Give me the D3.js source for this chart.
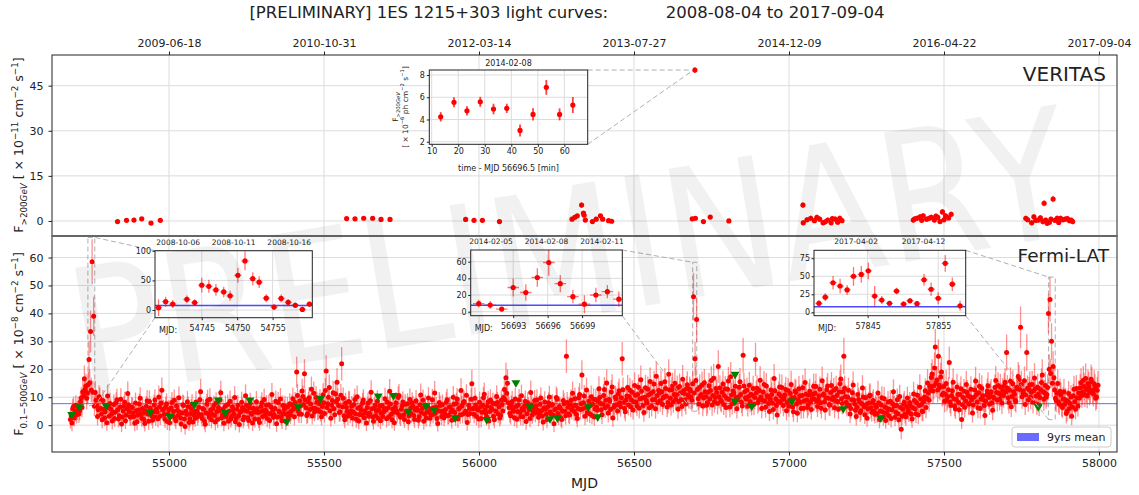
<!DOCTYPE html>
<html>
<head>
<meta charset="utf-8">
<title>1ES 1215+303 light curves</title>
<script src="https://cdn.jsdelivr.net/npm/d3@7"></script>
<style>
  body { margin: 0; background: #fff; }
  svg { font-family: "DejaVu Sans", sans-serif; }
</style>
</head>
<body>
<svg id="chart" width="1139" height="495"></svg>
<script>

//// DATA

// Shared time axis: MJD ticks (bottom) and the matching calendar dates (top)
var mjdTicks = [55000, 55500, 56000, 56500, 57000, 57500, 58000];
var dateTicks = ["2009-06-18", "2010-10-31", "2012-03-14", "2013-07-27", "2014-12-09", "2016-04-22", "2017-09-04"];
var veritasTicks = [0, 15, 30, 45];
var fermiTicks = [0, 10, 20, 30, 40, 50, 60];

// VERITAS nightly fluxes (x 1e-11 cm-2 s-1)
var veritasMjd = [
  54834, 54863, 54887, 54912, 54942, 54972,
  55573, 55600, 55628, 55657, 55684, 55713,
  55957, 55984, 56011, 56066,
  56300, 56309, 56317, 56331, 56337, 56339, 56343, 56366, 56378, 56392, 56399, 56418, 56428,
  56688, 56696.5, 56698, 56724, 56746, 56806,
  57045, 57046, 57058, 57070, 57082, 57090, 57099, 57110, 57117, 57125, 57136, 57140, 57149, 57157, 57164, 57171,
  57401, 57406, 57413, 57423, 57428, 57433, 57444, 57452, 57459, 57469, 57474, 57480, 57487, 57495, 57500, 57505, 57515, 57523,
  57764, 57770, 57783, 57790, 57796, 57804, 57811, 57819, 57823, 57828, 57833, 57840, 57845, 57852, 57858, 57865, 57870, 57876, 57884, 57891, 57898, 57905, 57910, 57915
];
var veritasFlux = [
  -0.2, 0.2, 0.3, 0.7, -0.7, 0.2,
  0.8, 0.7, 0.9, 0.9, 0.5, 0.5,
  0.5, 0.2, 0.2, -0.2,
  0.6, 1.2, 1.7, 5.3, 2.6, 1.9, 0.3, -0.2, 0.6, 1.7, 0.6, 0.1, -0.1,
  0.7, 50.2, 0.9, -0.2, 1.3, 0.0,
  5.3, -0.6, 0.4, 0.9, 0.1, 1.2, 0.6, -0.6, -0.3, 0.3, -0.6, 0.8, 0.6, -0.4, 0.9, 0.1,
  0.3, 0.7, 0.9, 1.4, 0.2, 1.7, 0.6, 0.9, 1.2, 0.3, 1.6, 1.2, -0.2, 3.0, 0.4, 1.7, 1.0, 2.2,
  0.9, 0.4, -0.6, 1.4, 0.2, 0.3, 1.0, -0.2, 5.9, 0.3, -0.8, -0.4, 0.6, 7.3, 0.2, 0.9, -0.5, 0.9, 0.4, 0.6, 0.8, 0.1, 0.3, -0.2
];
var veritasErr = [
  0.4, 0.4, 0.4, 0.5, 0.4, 0.4,
  0.4, 0.4, 0.4, 0.4, 0.4, 0.4,
  0.4, 0.4, 0.4, 0.4,
  0.5, 0.6, 0.6, 0.9, 0.7, 0.6, 0.5, 0.5, 0.5, 0.6, 0.5, 0.5, 0.5,
  0.5, 1.0, 0.6, 0.6, 0.6, 0.5,
  0.9, 0.9, 0.8, 0.9, 0.8, 0.9, 0.9, 0.9, 0.8, 0.8, 0.9, 0.8, 0.9, 0.8, 0.9, 0.8,
  0.8, 0.8, 0.9, 0.9, 0.8, 0.9, 0.8, 0.9, 0.9, 0.8, 0.9, 0.9, 0.8, 1.0, 0.8, 0.9, 0.8, 0.9,
  0.8, 0.8, 0.9, 0.9, 0.8, 0.8, 0.9, 0.9, 1.0, 0.8, 0.9, 0.8, 0.8, 1.1, 0.8, 0.9, 0.8, 0.9, 0.8, 0.8, 0.9, 0.8, 0.8, 0.9
];

// VERITAS flare night 2014-02-08, minutes after MJD 56696.5 (x 1e-6 ph cm-2 s-1)
var vFlareMin = [13.4, 18.4, 23.3, 28.3, 33.3, 38.3, 43.3, 48.2, 53.2, 58.2, 63.2];
var vFlareFlux = [4.24, 5.54, 4.78, 5.59, 4.94, 5.0, 3.02, 4.46, 6.89, 4.46, 5.3];
var vFlareErr = [0.42, 0.45, 0.42, 0.45, 0.48, 0.42, 0.54, 0.54, 0.66, 0.54, 0.72];
var vInsXTicks = [10, 20, 30, 40, 50, 60];
var vInsYTicks = [2, 4, 6, 8];

// Fermi-LAT light curve, 2.5-day bins starting at MJD 54682 (x 1e-8 cm-2 s-1), 100 days per row
var fermiStart = 54682;
var fermiBin = 2.5;
var fermiFlux = [
  2.0, 3.4, 0.8, 5.9, 6.7, 2.6, 4.5, 7.1, 3.7, 5.3, 6.7, 4.0, 5.2, 8.4, 9.7, 6.3, 12.0, 10.5, 16.6, 12.8, 14.0, 9.6, 11.5, 14.5, 23.5, 15.2, 33.5, 12.6, 58.5, 11.8, 39.0, 6.8, 11.7, 8.9, 7.0, 3.1, 5.5, 10.2, 9.5, 6.0,
  4.0, 1.9, 8.8, 5.6, 2.6, 4.8, 6.1, 0.9, 10.4, 6.9, 3.2, 7.8, 5.8, 3.9, 1.5, 4.7, 7.4, 2.4, 4.6, 8.0, 9.1, 5.5, 2.2, 3.4, 6.5, 9.3, 0.4, 2.9, 5.1, 6.8, 8.2, 1.6, 3.6, 5.9, 11.3, 7.2, 4.9, 3.0, 2.8, 6.4,
  6.3, 4.4, 3.1, 0.7, 7.9, 5.2, 1.2, 3.6, 5.4, 7.6, 9.6, 4.1, 2.5, 6.0, 4.3, 2.0, 0.6, 5.1, 6.8, 8.7, 3.9, 1.4, 8.5, 6.1, 5.0, 3.3, 1.8, 4.6, 7.2, 9.0, 2.9, 5.7, 4.7, 2.3, 10.1, 6.6, 3.3, 7.9, 12.5, 5.4,
  5.6, 3.8, 2.1, 6.5, 7.7, 1.3, 4.0, 5.5, 0.9, 3.0, 6.2, 8.1, 3.4, 4.9, 8.9, 2.7, 1.6, 6.9, 5.3, 3.5, 9.8, 4.6, 2.7, 0.4, 4.4, 7.3, 7.0, 2.2, -0.5, 5.0, 3.8, 8.4, 6.6, 1.0, 2.3, 4.2, 5.9, 7.5, 1.1, 3.6,
  4.8, 2.5, 8.3, 5.1, 3.0, 4.2, 6.4, 9.1, 12.0, 3.7, 2.4, 6.0, 5.7, 1.5, 0.3, 4.4, 7.5, 8.8, 4.1, 2.8, 9.3, 5.4, 1.9, 3.9, 6.0, 7.0, 3.5, 1.1, 8.0, 4.9, 2.0, 6.3, 5.2, 9.0, 11.6, 2.6, 3.7, 5.8, 0.7, 4.5,
  6.9, 3.0, 4.2, 7.4, 1.4, 5.0, 8.6, 2.2, 3.2, 6.6, 5.5, 4.0, 9.9, 1.2, 2.6, 5.7, 7.1, 3.4, 0.2, 4.6, 4.9, 8.2, 6.3, 1.9, 2.9, 5.3, 10.5, 7.0, 5.0, 2.7, 1.7, 6.2, 7.8, 4.3, 3.9, 0.8, 6.1, 5.6, 2.2, 4.7,
  8.4, 5.9, 4.5, 2.0, 1.0, 4.8, 6.7, 8.0, 3.1, 5.2, 9.2, 3.6, 5.3, 7.1, 2.4, 4.3, 7.3, 1.7, 4.0, 6.5, 11.0, 5.4, 2.8, 3.8, 6.0, 8.6, 0.5, 2.9, 8.1, 5.0, 4.6, 9.4, 3.0, 1.6, 7.0, 4.1, 5.6, 6.8, 1.3, 3.9,
  6.5, 2.8, 4.4, 7.7, 3.6, 5.1, 7.2, 9.5, 5.8, 3.0, 8.1, 6.4, 19.0, 10.6, 5.1, 4.0, 8.7, 6.9, 3.9, 12.2, 10.3, 7.4, 18.4, 9.1, 6.2, 3.5, 4.1, 8.3, 9.8, 5.6, 7.6, 12.9, 3.3, 6.1, 11.4, 4.7, 6.0, 9.9, 8.2, 5.2,
  5.4, 7.8, 9.0, 4.6, 3.0, 6.7, 10.9, 8.0, 4.2, 12.4, 19.4, 6.3, 7.7, 10.0, 13.5, 5.2, 2.5, 7.1, 8.8, 11.6, 5.9, 3.7, 11.2, 8.4, 15.4, 9.3, 7.0, 4.5, 4.8, 10.7, 22.0, 6.6, 9.6, 3.4, 1.9, 7.9, 6.4, 4.9, 3.2, 8.5,
  8.3, 4.0, 5.1, 6.8, 2.6, 4.7, 7.4, 9.2, 4.0, 2.1, 10.2, 6.1, 1.5, 3.8, 6.6, 5.4, 3.7, 7.9, 9.0, 2.7, 5.2, 4.4, 0.8, 6.3, 7.9, 3.2, 4.3, 8.8, 11.8, 5.9, 2.9, 1.4, 6.1, 7.0, 3.4, 5.0, 8.6, 2.5, 5.5, 6.9,
  1.6, 4.3, 7.0, 3.1, 4.7, 6.0, 9.5, 5.5, 2.3, 8.2, 6.2, 3.0, 12.1, 7.6, 3.9, 1.9, 5.8, 4.6, 0.9, 6.4, 8.0, 5.2, 4.4, 9.9, 10.6, 3.5, 2.8, 5.7, 6.9, 8.3, 3.6, 2.0, 7.5, 4.8, 5.0, 7.7, 1.2, 3.3, 9.2, 6.2,
  4.1, 8.0, 6.8, 3.5, 2.0, 5.4, 8.7, 6.1, 5.3, 1.8, 3.0, 7.3, 10.8, 4.5, 6.0, 8.9, 1.4, 4.0, 7.2, 2.6, 4.6, 6.7, 9.7, 5.0, 2.5, 3.7, 5.9, 9.1, 3.8, 6.2, 11.5, 4.3, 6.5, 2.4, 0.6, 5.2, 8.1, 7.0, 4.9, 3.1,
  7.3, 5.0, 2.7, 4.1, 5.6, 8.2, 9.1, 3.4, 3.5, 6.6, 6.4, 4.7, 1.8, 5.3, 10.0, 7.5, 4.5, 2.9, 7.8, 9.4, 2.2, 5.8, 6.2, 3.6, 12.4, 6.9, 3.9, 8.0, 8.5, 4.4, 5.0, 10.7, 1.0, 3.8, 7.1, 6.0, 4.2, 9.3, 14.8, 5.9,
  6.0, 3.9, 9.6, 7.2, 3.1, 5.8, 5.4, 2.2, 8.2, 6.5, 2.4, 4.6, 7.0, 9.8, 11.1, 5.5, 4.3, 3.0, 6.8, 8.4, 1.5, 4.9, 9.0, 6.3, 5.7, 7.9, 3.2, 1.9, 7.6, 5.1, 10.3, 8.1, 4.0, 6.6, 2.6, 3.5, 8.9, 7.4, 5.1, 9.9,
  12.8, 9.1, 17.0, 11.4, 15.0, 8.0, 6.3, 4.2, 3.4, 7.0, 8.5, 5.6, 5.0, 2.7, 9.4, 6.7, 2.1, 4.9, 7.2, 9.0, 4.6, 3.1, 10.5, 6.0, 3.0, 5.4, 6.9, 8.6, 1.3, 4.1, 8.0, 6.4, 5.5, 2.4, 11.7, 7.3, 3.7, 5.0, 6.2, 8.8,
  4.4, 6.9, 9.0, 5.3, 2.8, 4.0, 7.5, 9.7, 5.2, 3.3, 1.1, 6.2, 8.3, 5.7, 3.9, 2.0, 6.6, 8.0, 10.1, 4.8, 4.0, 7.1, 7.4, 3.6, 0.5, 5.5, 5.8, 9.9, 9.3, 4.2, 3.3, 6.7, 6.1, 2.5, 2.0, 5.0, 8.8, 7.7, 5.0, 3.4,
  24.7, 8.1, 6.4, 4.0, 3.6, 7.3, 8.9, 5.5, 11.4, 6.8, 4.9, 9.5, 7.1, 3.8, 2.4, 6.0, 9.8, 11.0, 5.6, 7.7, 18.0, 5.9, 8.0, 10.4, 3.2, 6.3, 12.6, 4.5, 6.7, 8.6, 4.1, 7.0, 10.2, 3.5, 7.5, 9.3, 2.9, 5.8, 9.1, 6.5,
  5.3, 8.6, 13.0, 9.9, 7.8, 5.5, 3.7, 7.6, 10.6, 12.8, 6.2, 8.9, 15.1, 6.9, 4.4, 9.2, 8.7, 5.6, 11.9, 13.7, 2.6, 6.4, 7.0, 10.1, 9.5, 7.3, 5.1, 11.2, 12.3, 8.0, 6.6, 9.8, 23.8, 12.7, 8.1, 6.0, 4.8, 9.0, 10.4, 13.5,
  7.2, 10.3, 12.5, 6.6, 9.0, 11.8, 5.4, 8.4, 14.2, 10.7, 8.3, 6.9, 11.0, 13.6, 6.1, 9.5, 16.3, 12.1, 9.7, 7.0, 4.5, 10.0, 13.4, 8.8, 7.9, 12.9, 10.8, 6.2, 15.6, 11.3, 6.8, 9.1, 12.0, 14.7, 9.2, 5.9, 17.5, 10.6, 8.0, 12.4,
  11.6, 8.7, 14.9, 12.0, 7.4, 9.8, 10.2, 15.5, 13.1, 10.4, 6.5, 8.1, 18.2, 12.6, 9.6, 7.2, 12.7, 14.1, 8.4, 11.0, 15.0, 9.3, 10.9, 13.2, 5.8, 8.5, 13.8, 11.5, 9.1, 6.7, 16.4, 12.3, 11.3, 9.0, 7.6, 13.0, 14.5, 10.8, 10.0, 12.9,
  12.2, 10.1, 8.9, 14.8, 46.0, 11.5, 23.8, 16.0, 37.8, 12.8, 9.5, 7.6, 13.6, 10.5, 11.0, 14.4, 6.9, 9.7, 15.2, 12.0, 10.3, 7.1, 8.0, 11.9, 14.1, 9.4, 12.4, 16.0, 7.2, 10.6, 16.8, 8.4, 9.9, 13.1, 11.7, 7.8, 21.0, 10.2, 13.3, 9.0,
  8.6, 11.8, 14.7, 7.4, 10.5, 13.0, 6.3, 9.6, 12.9, 15.8, 9.2, 6.5, 17.3, 10.8, 7.7, 12.2, 11.5, 8.2, 13.9, 10.0, 5.9, 9.1, 10.1, 13.6, 15.5, 11.0, 8.3, 6.9, 25.0, 14.0, 12.0, 9.8, 9.4, 12.5, 6.8, 10.3, 14.3, 8.5, 11.1, 7.3,
  10.7, 13.1, 7.5, 9.9, 23.5, 11.6, 13.2, 8.0, 9.0, 12.4, 16.1, 10.1, 6.0, 8.9, 11.8, 14.6, 8.7, 6.4, 14.0, 10.5, 10.2, 7.8, 4.9, 9.3, 12.6, 11.0, 7.9, 5.6, 16.7, 12.3, 9.5, 7.0, 3.6, 8.6, 11.2, 13.7, 8.1, 10.4, 13.5, 9.2,
  7.0, 9.5, 10.9, 12.8, 5.2, 8.1, 12.4, 6.8, 8.8, 11.3, 14.6, 9.7, 6.5, 4.8, 9.9, 12.2, 11.7, 7.6, 4.3, 9.0, 13.0, 10.4, 8.2, 6.0, 10.6, 13.4, 6.1, 8.7, 15.3, 11.1, 9.0, 6.3, 7.3, 10.8, 12.1, 8.3, 5.6, 9.4, 11.0, 13.9,
  9.3, 11.4, 13.8, 8.6, 6.7, 9.0, 10.4, 12.9, 8.0, 6.1, 15.9, 10.8, 11.2, 8.4, 5.4, 9.8, 12.7, 14.0, 9.6, 7.4, 7.1, 11.7, 14.2, 9.2, 10.0, 12.5, 6.2, 8.8, 13.1, 10.6, 8.5, 5.7, 11.9, 14.8, 16.5, 9.5, 7.8, 12.0, 24.7, 13.2,
  10.3, 8.2, 6.9, 10.0, 12.5, 7.1, 4.0, 6.0, 9.1, 11.6, 14.4, 8.9, 7.6, 5.3, 3.1, 6.4, 11.0, 9.2, 8.4, 4.5, 5.2, 7.8, 13.3, 10.1, 6.6, 3.7, 9.8, 7.4, 2.5, 5.9, 7.9, 10.4, 10.7, 6.2, 4.6, 8.1, 8.8, 5.0, 3.9, 7.0,
  6.4, 4.2, 11.5, 8.0, 2.0, 5.1, 7.2, 9.8, 4.8, 3.0, 9.5, 6.6, 1.7, 4.4, 6.0, 8.3, 3.4, 5.6, 8.6, 2.4, 5.5, 7.7, 12.0, 6.9, 2.8, 4.6, 7.0, 9.1, 4.1, 1.9, 10.3, 6.3, -1.5, 3.2, 5.7, 7.5, 8.2, 4.0, 3.0, 6.7,
  9.7, 5.3, 4.5, 8.1, 6.9, 3.9, 2.2, 6.2, 11.2, 8.8, 5.8, 4.1, 8.0, 10.7, 3.6, 7.0, 13.6, 9.4, 7.4, 5.0, 4.9, 8.5, 10.1, 12.3, 6.3, 9.6, 15.1, 11.5, 8.9, 13.9, 12.8, 17.1, 18.3, 12.2, 14.0, 20.5, 28.0, 15.0, 16.2, 12.6,
  24.7, 14.3, 13.5, 17.2, 19.0, 10.9, 11.4, 13.8, 8.6, 11.1, 14.9, 9.0, 10.2, 12.7, 22.4, 8.3, 7.0, 10.6, 12.3, 15.4, 9.5, 6.8, 5.8, 9.2, 13.7, 11.0, 8.1, 5.5, 11.0, 13.0, 2.0, 7.3, 9.9, 12.1, 6.4, 8.7, 14.6, 11.8, 10.5, 7.6,
  7.7, 10.2, 12.9, 9.1, 4.4, 7.2, 10.0, 12.6, 15.8, 11.0, 8.3, 6.2, 11.6, 13.9, 6.0, 9.4, 13.2, 10.5, 9.1, 7.0, 3.5, 8.6, 10.8, 12.2, 14.1, 9.9, 7.5, 11.3, 12.0, 8.0, 5.3, 10.1, 9.6, 13.5, 16.0, 11.7, 8.9, 14.2, 11.4, 9.3,
  13.7, 10.8, 7.9, 12.4, 10.6, 14.0, 15.4, 11.9, 26.0, 13.3, 9.8, 8.1, 12.5, 15.7, 6.6, 10.3, 14.8, 12.0, 11.1, 9.0, 8.5, 13.6, 13.0, 17.4, 16.3, 12.8, 35.0, 14.6, 10.2, 11.5, 12.2, 15.9, 7.4, 10.9, 26.0, 13.2, 9.0, 12.7, 14.5, 10.0,
  11.8, 14.6, 8.2, 12.3, 16.9, 13.0, 10.4, 7.6, 13.6, 11.2, 7.1, 9.9, 12.7, 15.3, 18.0, 12.0, 9.3, 11.6, 14.2, 10.1, 11.0, 13.5, 40.0, 20.0, 45.0, 18.5, 30.0, 15.0, 21.0, 17.0, 12.6, 9.6, 8.8, 11.4, 14.9, 8.3, 7.5, 12.1, 10.9, 6.9,
  6.3, 9.4, 12.0, 7.5, 9.1, 4.2, 5.0, 8.6, 11.3, 6.0, 7.8, 10.1, 3.2, 6.5, 10.5, 12.9, 8.4, 5.7, 13.1, 9.8, 6.9, 11.5, 9.7, 13.4, 15.2, 10.6, 11.9, 16.1, 13.8, 11.0, 16.7, 12.8, 10.4, 14.9, 14.0, 11.7, 12.6, 16.4, 15.5, 12.2,
  11.2, 14.8, 13.4, 9.6, 10.1, 12.5, 14.3
];
var fermiErr = [
  3.2, 3.4, 3.0, 3.5, 3.5, 3.1, 3.3, 3.6, 3.1, 3.4, 3.6, 3.2, 3.4, 3.8, 3.9, 3.5, 4.2, 4.0, 4.8, 4.3, 4.5, 3.9, 4.0, 4.6, 6.5, 4.8, 7.5, 4.4, 8.0, 4.2, 7.0, 3.6, 4.2, 3.8, 3.6, 3.2, 3.4, 4.0, 3.9, 3.5,
  3.1, 3.0, 3.8, 3.5, 3.0, 3.4, 3.4, 2.9, 4.1, 3.7, 3.2, 3.8, 3.5, 3.2, 3.0, 3.4, 3.7, 3.0, 3.3, 3.8, 3.9, 3.5, 3.0, 3.1, 3.5, 3.9, 2.9, 3.1, 3.4, 3.6, 3.8, 3.0, 3.2, 3.5, 4.3, 3.7, 3.5, 3.1, 3.1, 3.6,
  3.6, 3.3, 3.2, 2.9, 3.8, 3.4, 3.0, 3.2, 3.4, 3.7, 4.0, 3.3, 3.1, 3.5, 3.3, 3.0, 2.9, 3.4, 3.6, 3.9, 3.2, 3.0, 3.9, 3.5, 3.4, 3.2, 3.0, 3.3, 3.7, 3.9, 3.1, 3.5, 3.4, 3.1, 4.1, 3.6, 3.2, 3.8, 4.6, 3.4,
  3.5, 3.3, 3.1, 3.6, 3.7, 3.0, 3.3, 3.5, 2.9, 3.1, 3.6, 3.8, 3.2, 3.4, 3.9, 3.1, 3.0, 3.6, 3.4, 3.2, 4.0, 3.4, 3.1, 2.9, 3.3, 3.7, 3.7, 3.1, 2.8, 3.4, 3.2, 3.8, 3.6, 3.0, 3.1, 3.3, 3.5, 3.7, 3.0, 3.3,
  3.4, 3.1, 3.8, 3.4, 3.1, 3.3, 3.6, 3.9, 4.5, 3.2, 3.0, 3.5, 3.5, 3.0, 2.8, 3.3, 3.7, 3.9, 3.2, 3.1, 3.9, 3.4, 3.0, 3.3, 3.6, 3.6, 3.1, 2.9, 3.8, 3.4, 3.0, 3.5, 3.4, 3.9, 4.3, 3.1, 3.2, 3.5, 2.9, 3.3,
  3.7, 3.1, 3.3, 3.6, 3.0, 3.4, 3.8, 3.0, 3.2, 3.6, 3.5, 3.3, 4.0, 3.0, 3.1, 3.5, 3.7, 3.2, 2.8, 3.3, 3.4, 3.8, 3.6, 3.0, 3.1, 3.4, 4.1, 3.7, 3.5, 3.1, 3.0, 3.5, 3.8, 3.3, 3.2, 2.9, 3.6, 3.5, 3.1, 3.4,
  3.8, 3.5, 3.4, 3.0, 3.0, 3.4, 3.6, 3.8, 3.1, 3.4, 3.9, 3.2, 3.5, 3.7, 3.1, 3.3, 3.7, 3.0, 3.3, 3.6, 4.1, 3.5, 3.1, 3.2, 3.5, 3.8, 2.9, 3.1, 3.8, 3.4, 3.4, 3.9, 3.1, 3.0, 3.7, 3.3, 3.5, 3.6, 3.0, 3.2,
  3.6, 3.1, 3.3, 3.7, 3.2, 3.4, 3.7, 3.9, 3.8, 3.1, 3.8, 3.5, 5.5, 4.1, 3.4, 3.2, 3.8, 3.6, 3.2, 4.4, 4.0, 3.6, 5.2, 3.9, 3.6, 3.1, 3.3, 3.7, 3.9, 3.4, 3.7, 4.5, 3.1, 3.5, 4.2, 3.3, 3.5, 4.0, 3.8, 3.4,
  3.4, 3.7, 3.9, 3.3, 3.1, 3.5, 4.1, 3.7, 3.3, 4.5, 5.6, 3.5, 3.7, 4.0, 4.6, 3.4, 3.0, 3.6, 3.8, 4.3, 3.5, 3.2, 4.2, 3.8, 5.0, 3.9, 3.6, 3.3, 3.4, 4.0, 6.0, 3.5, 3.9, 3.2, 3.0, 3.7, 3.6, 3.3, 3.1, 3.8,
  3.8, 3.3, 3.4, 3.6, 3.1, 3.4, 3.7, 3.9, 3.3, 3.0, 4.0, 3.5, 3.0, 3.3, 3.6, 3.4, 3.2, 3.7, 3.9, 3.1, 3.4, 3.3, 2.9, 3.5, 3.8, 3.1, 3.3, 3.8, 4.3, 3.5, 3.1, 3.0, 3.6, 3.7, 3.2, 3.4, 3.9, 3.1, 3.5, 3.6,
  3.0, 3.3, 3.7, 3.1, 3.4, 3.5, 3.9, 3.4, 3.1, 3.8, 3.6, 3.1, 4.4, 3.7, 3.3, 3.0, 3.5, 3.3, 2.9, 3.6, 3.8, 3.4, 3.4, 4.0, 4.1, 3.2, 3.1, 3.4, 3.7, 3.8, 3.3, 3.0, 3.7, 3.4, 3.4, 3.7, 3.0, 3.2, 3.9, 3.5,
  3.3, 3.8, 3.6, 3.2, 3.0, 3.4, 3.9, 3.5, 3.5, 3.0, 3.1, 3.7, 4.1, 3.3, 3.6, 3.9, 3.0, 3.2, 3.7, 3.1, 3.3, 3.6, 3.9, 3.4, 3.1, 3.2, 3.5, 3.9, 3.2, 3.6, 4.3, 3.3, 3.6, 3.0, 2.9, 3.4, 3.8, 3.7, 3.4, 3.1,
  3.7, 3.4, 3.1, 3.2, 3.5, 3.8, 3.9, 3.2, 3.2, 3.6, 3.6, 3.3, 3.0, 3.4, 4.0, 3.7, 3.4, 3.1, 3.8, 3.9, 3.1, 3.5, 3.6, 3.2, 4.4, 3.6, 3.3, 3.7, 3.8, 3.3, 3.4, 4.0, 3.0, 3.2, 3.7, 3.5, 3.3, 3.9, 5.0, 3.5,
  3.6, 3.2, 3.9, 3.7, 3.2, 3.5, 3.5, 3.1, 3.8, 3.6, 3.1, 3.3, 3.7, 3.9, 4.2, 3.4, 3.3, 3.1, 3.6, 3.8, 3.0, 3.4, 3.9, 3.5, 3.5, 3.7, 3.2, 3.0, 3.7, 3.4, 4.0, 3.8, 3.3, 3.5, 3.1, 3.2, 3.8, 3.7, 3.4, 3.9,
  4.6, 3.9, 5.4, 4.2, 5.0, 3.7, 3.6, 3.3, 3.2, 3.6, 3.8, 3.4, 3.4, 3.1, 3.9, 3.5, 3.1, 3.4, 3.7, 3.9, 3.3, 3.1, 4.0, 3.5, 3.2, 3.4, 3.6, 3.8, 3.0, 3.3, 3.8, 3.5, 3.5, 3.1, 4.3, 3.7, 3.3, 3.4, 3.6, 3.8,
  3.4, 3.6, 3.9, 3.4, 3.2, 3.3, 3.7, 3.9, 3.5, 3.2, 3.0, 3.5, 3.8, 3.4, 3.3, 3.1, 3.6, 3.7, 4.0, 3.4, 3.3, 3.6, 3.7, 3.2, 2.9, 3.4, 3.5, 3.9, 3.9, 3.3, 3.2, 3.6, 3.6, 3.1, 3.1, 3.4, 3.8, 3.7, 3.4, 3.2,
  6.0, 3.8, 3.6, 3.3, 3.3, 3.7, 3.9, 3.5, 4.2, 3.6, 3.4, 3.9, 3.7, 3.2, 3.1, 3.5, 3.9, 4.1, 3.5, 3.7, 5.2, 3.5, 3.8, 4.0, 3.2, 3.6, 4.4, 3.3, 3.6, 3.8, 3.3, 3.7, 4.0, 3.2, 3.7, 3.9, 3.1, 3.5, 3.9, 3.6,
  3.5, 3.9, 4.5, 4.0, 3.8, 3.5, 3.3, 3.8, 4.1, 4.4, 3.6, 3.9, 4.9, 3.7, 3.4, 3.9, 3.9, 3.5, 4.3, 4.5, 3.2, 3.6, 3.7, 4.1, 4.0, 3.7, 3.5, 4.2, 4.4, 3.8, 3.6, 4.0, 6.0, 4.4, 3.9, 3.6, 3.4, 3.9, 4.1, 4.5,
  3.7, 4.1, 4.4, 3.8, 3.9, 4.3, 3.4, 3.9, 4.7, 4.2, 3.9, 3.7, 4.2, 4.6, 3.6, 4.0, 5.1, 4.4, 4.0, 3.7, 3.3, 4.0, 4.6, 3.9, 3.8, 4.5, 4.2, 3.6, 5.0, 4.3, 3.7, 3.9, 4.3, 4.8, 4.0, 3.6, 5.3, 4.2, 3.9, 4.4,
  4.2, 3.9, 4.8, 4.3, 3.8, 4.0, 4.1, 4.9, 4.6, 4.1, 3.6, 3.8, 5.4, 4.5, 4.0, 3.7, 4.5, 4.7, 3.9, 4.2, 4.9, 4.0, 4.2, 4.6, 3.5, 3.9, 4.7, 4.3, 4.0, 3.6, 5.1, 4.4, 4.3, 4.0, 3.8, 4.6, 4.8, 4.2, 4.1, 4.5,
  4.4, 4.1, 4.0, 4.8, 8.5, 4.3, 6.0, 5.0, 8.0, 4.5, 4.1, 3.8, 4.6, 4.2, 4.3, 4.8, 3.7, 4.1, 4.9, 4.4, 4.2, 3.8, 3.9, 4.4, 4.7, 4.0, 4.4, 5.1, 3.8, 4.2, 5.2, 3.9, 4.1, 4.6, 4.5, 3.9, 5.8, 4.2, 4.6, 4.0,
  4.0, 4.4, 4.8, 3.8, 4.3, 4.6, 3.6, 4.0, 4.6, 5.0, 4.1, 3.7, 5.3, 4.3, 3.9, 4.5, 4.4, 3.9, 4.7, 4.1, 3.5, 4.0, 4.2, 4.7, 5.0, 4.3, 4.0, 3.7, 6.2, 4.8, 4.5, 4.1, 4.1, 4.5, 3.7, 4.2, 4.8, 3.9, 4.3, 3.8,
  4.3, 4.6, 3.9, 4.2, 6.0, 4.4, 4.6, 3.9, 4.1, 4.5, 5.1, 4.2, 3.6, 4.0, 4.4, 4.8, 4.0, 3.7, 4.7, 4.3, 4.2, 3.9, 3.4, 4.1, 4.5, 4.4, 3.9, 3.6, 5.2, 4.5, 4.1, 3.8, 3.3, 4.0, 4.4, 4.7, 4.0, 4.3, 4.6, 4.1,
  3.8, 4.1, 4.3, 4.5, 3.5, 3.9, 4.5, 3.8, 4.1, 4.3, 4.9, 4.2, 3.7, 3.6, 4.2, 4.5, 4.4, 3.9, 3.3, 4.0, 4.6, 4.2, 4.0, 3.7, 4.3, 4.6, 3.7, 4.0, 5.0, 4.3, 4.1, 3.8, 3.8, 4.3, 4.5, 4.0, 3.6, 4.1, 4.3, 4.6,
  4.1, 4.4, 4.7, 4.0, 3.8, 4.1, 4.3, 4.5, 4.0, 3.7, 5.1, 4.3, 4.4, 4.0, 3.6, 4.1, 4.5, 4.7, 4.2, 3.9, 3.8, 4.4, 4.8, 4.1, 4.2, 4.5, 3.7, 4.0, 4.6, 4.3, 4.0, 3.6, 4.4, 4.9, 5.2, 4.1, 3.9, 4.5, 6.5, 4.6,
  4.3, 4.0, 3.8, 4.2, 4.5, 3.9, 3.3, 3.6, 4.1, 4.4, 4.8, 4.0, 3.9, 3.5, 3.2, 3.7, 4.3, 4.0, 4.0, 3.4, 3.5, 3.8, 4.6, 4.2, 3.7, 3.3, 4.2, 3.9, 3.1, 3.6, 3.9, 4.2, 4.3, 3.7, 3.4, 3.9, 4.1, 3.5, 3.3, 3.8,
  3.7, 3.4, 4.4, 3.9, 3.1, 3.5, 3.8, 4.1, 3.5, 3.2, 4.2, 3.7, 3.0, 3.4, 3.7, 3.9, 3.3, 3.6, 4.0, 3.2, 3.6, 3.8, 4.4, 3.7, 3.2, 3.5, 3.8, 4.0, 3.4, 3.1, 4.2, 3.7, 3.5, 3.2, 3.7, 3.8, 4.0, 3.4, 3.2, 3.6,
  4.1, 3.5, 3.4, 3.8, 3.8, 3.3, 3.1, 3.6, 4.3, 3.9, 3.7, 3.4, 4.0, 4.1, 3.3, 3.7, 4.6, 4.0, 3.9, 3.5, 3.5, 3.9, 4.2, 4.4, 3.8, 4.0, 5.0, 4.4, 4.1, 4.7, 4.6, 5.1, 5.3, 4.5, 4.8, 5.5, 6.5, 4.9, 5.0, 4.5,
  6.0, 4.8, 4.7, 5.1, 5.4, 4.2, 4.3, 4.6, 4.0, 4.2, 4.9, 3.9, 4.2, 4.5, 5.8, 3.9, 3.8, 4.2, 4.5, 4.9, 4.1, 3.7, 3.6, 4.0, 4.7, 4.3, 3.9, 3.5, 4.3, 4.5, 3.3, 3.7, 4.2, 4.4, 3.7, 4.0, 4.8, 4.4, 4.3, 3.9,
  3.9, 4.2, 4.6, 4.0, 3.5, 3.8, 4.2, 4.5, 5.1, 4.3, 4.0, 3.7, 4.4, 4.7, 3.6, 4.1, 4.7, 4.2, 4.1, 3.8, 3.4, 3.9, 4.3, 4.5, 4.8, 4.1, 3.9, 4.3, 4.5, 3.9, 3.5, 4.2, 4.2, 4.6, 5.2, 4.3, 4.0, 4.7, 4.4, 4.0,
  4.7, 4.3, 3.9, 4.5, 4.3, 4.8, 5.0, 4.4, 6.5, 4.6, 4.2, 3.9, 4.6, 5.0, 3.7, 4.2, 4.9, 4.4, 4.4, 4.0, 4.0, 4.7, 4.7, 5.2, 5.2, 4.6, 7.5, 4.9, 4.3, 4.5, 4.5, 5.1, 3.8, 4.3, 6.5, 4.6, 4.2, 4.5, 4.8, 4.1,
  4.5, 4.8, 4.0, 4.4, 5.3, 4.6, 4.3, 3.9, 4.8, 4.3, 3.8, 4.1, 4.7, 5.0, 5.6, 4.4, 4.2, 4.5, 4.9, 4.2, 4.4, 4.7, 7.0, 5.4, 8.0, 5.2, 6.5, 4.9, 5.5, 5.0, 4.7, 4.1, 4.1, 4.5, 5.0, 4.0, 3.9, 4.6, 4.4, 3.8,
  3.7, 4.2, 4.6, 3.9, 4.2, 3.6, 3.5, 4.1, 4.5, 3.8, 3.9, 4.3, 3.2, 3.7, 4.3, 4.7, 4.0, 3.6, 4.8, 4.2, 3.8, 4.5, 4.2, 4.9, 5.2, 4.4, 4.6, 5.1, 5.0, 4.5, 5.4, 4.8, 4.3, 5.0, 5.0, 4.6, 4.7, 5.3, 5.3, 4.7,
  4.5, 5.0, 4.9, 4.4, 4.3, 4.8, 5.1
];

// Fermi-LAT upper limits (green triangles)
var ulMjd = [54686, 54711, 54797, 54939, 55003, 55082, 55159, 55181, 55261, 55380, 55417, 55489, 55675, 55724, 55772, 55829,
             55855, 55923, 56025, 56119, 56165, 56229, 56253, 56353, 56383, 56826, 56826, 56880, 57009, 57175, 57296, 57804];
var ulFlux = [3.8, 6.6, 7.0, 4.7, 3.1, 7.4, 9.0, 4.5, 9.0, 1.4, 6.6, 9.6, 10.4, 10.6, 5.0, 6.8,
              5.6, 2.6, 2.0, 15.2, 6.6, 2.3, 2.6, 6.6, 3.0, 18.2, 8.6, 6.8, 8.6, 5.9, 2.6, 6.6];

// 9 year mean flux
var fermiMean = 7.7;

// Fermi-LAT daily bins for the three zoomed flares
var flare1Mjd = [54738.9, 54739.9, 54740.9, 54742.9, 54744.0, 54745.0, 54746.0, 54747.0, 54748.1, 54749.0, 54750.1,
                 54751.1, 54752.2, 54753.1, 54754.1, 54755.2, 54756.2, 54757.2, 54758.2, 54759.2, 54760.2];
var flare1Flux = [4, 14, 10, 18, 12.6, 42, 40, 34, 30.5, 24, 58.6, 83, 53, 47, 20, 5, 19.5, 13, 8, 1, 10];
var flare1Err = [14, 8.4, 6.7, 6.7, 5.6, 12.5, 11, 10, 9, 8.4, 12.5, 15.7, 11, 10, 6.7, 4.5, 6.7, 5.6, 4.5, 4.5, 4.5];
var flare1Ticks = [54745, 54750, 54755];
var flare1Title = "2008-10-06     2008-10-11     2008-10-16";

var flare2Mjd = [56690.0, 56691.0, 56692.0, 56693.0, 56694.1, 56695.1, 56696.1, 56697.1, 56698.2, 56699.2, 56700.2, 56701.2, 56702.2];
var flare2Flux = [9.6, 8, 3.2, 29, 23, 41, 59, 33.6, 18, 9, 20, 24, 15];
var flare2Err = [4.6, 4.8, 2, 10.8, 10, 11.2, 16, 10.4, 8, 10.8, 8.8, 8, 9.2];
var flare2Ticks = [56693, 56696, 56699];
var flare2Title = "2014-02-05     2014-02-08     2014-02-11";

var flare3Mjd = [57838.1, 57839.0, 57840.1, 57841.1, 57842.1, 57843.0, 57844.1, 57845.1, 57846.0, 57847.0, 57848.1,
                 57849.1, 57850.1, 57851.0, 57852.0, 57853.0, 57854.0, 57855.0, 57856.0, 57857.0, 57858.1];
var flare3Flux = [12.5, 21, 41, 36.5, 31, 50, 52.5, 57.5, 22.5, 17, 12.5, 29.5, 11.5, 16, 12, 45, 32, 19.5, 68, 39, 9];
var flare3Err = [4.6, 5.6, 9.3, 10, 7, 13, 11.6, 11.6, 14, 5.6, 3.7, 4.6, 3.7, 3.7, 3.7, 8.3, 9.3, 8.3, 11.6, 9.3, 7];
var flare3Ticks = [57845, 57855];
var flare3Title = "2017-04-02          2017-04-12";


//// LAYOUT

var W = 1139, H = 495;
var plotLeft = 52, plotRight = 1117;
var vTop = 55, vBottom = 236, fTop = 236, fBottom = 452;
var ink = "#222";
var red = "#ff0000";

var x = d3.scaleLinear().domain([54622.6, 58058.1]).range([plotLeft, plotRight]);
var yV = d3.scaleLinear().domain([-5, 55.2]).range([vBottom, vTop]);
var yF = d3.scaleLinear().domain([-9.6, 67.7]).range([fBottom, fTop]);

var svg = d3.select("#chart");
var defs = svg.append("defs");
svg.append("rect").attr("width", W).attr("height", H).attr("fill", "#fff");


//// HELPERS

///////////////////////////////////
// Clip rectangle for a panel
function addClip(id, x0, y0, x1, y1) {
///////////////////////////////////
    defs.append("clipPath").attr("id", id).append("rect")
        .attr("x", x0).attr("y", y0).attr("width", x1 - x0).attr("height", y1 - y0);
}

///////////////////////////////////
// Light grid lines on the given tick values
function drawGrid(g, xs, xs_, ys, ys_, box) {
///////////////////////////////////
    g.selectAll(null).data(xs).enter().append("line")
        .attr("x1", function(d) { return xs_(d); }).attr("x2", function(d) { return xs_(d); })
        .attr("y1", box.y0).attr("y2", box.y1)
        .attr("stroke", "#dcdcdc").attr("stroke-width", 1);
    g.selectAll(null).data(ys).enter().append("line")
        .attr("y1", function(d) { return ys_(d); }).attr("y2", function(d) { return ys_(d); })
        .attr("x1", box.x0).attr("x2", box.x1)
        .attr("stroke", "#dcdcdc").attr("stroke-width", 1);
}

///////////////////////////////////
// Points with error bars
function drawErrorPoints(g, xv, yv, ev, xs_, ys_, opt) {
///////////////////////////////////
    g.selectAll(null).data(yv).enter().append("line")
        .attr("x1", function(d, i) { return xs_(xv[i]); })
        .attr("x2", function(d, i) { return xs_(xv[i]); })
        .attr("y1", function(d, i) { return ys_(d - ev[i]); })
        .attr("y2", function(d, i) { return ys_(d + ev[i]); })
        .attr("stroke", opt.bar).attr("stroke-width", opt.barWidth);
    if (opt.xerr) {
        g.selectAll(null).data(yv).enter().append("line")
            .attr("x1", function(d, i) { return xs_(xv[i] - opt.xerr); })
            .attr("x2", function(d, i) { return xs_(xv[i] + opt.xerr); })
            .attr("y1", function(d) { return ys_(d); })
            .attr("y2", function(d) { return ys_(d); })
            .attr("stroke", opt.bar).attr("stroke-width", opt.barWidth);
    }
    g.selectAll(null).data(yv).enter().append("circle")
        .attr("cx", function(d, i) { return xs_(xv[i]); })
        .attr("cy", function(d) { return ys_(d); })
        .attr("r", opt.r).attr("fill", red);
}

///////////////////////////////////
// Text with sub/superscripts from parts
function richText(t, parts, size) {
///////////////////////////////////
    var cur = 0;
    parts.forEach(function(p) {
        var shift = p.sub ? size * 0.3 : (p.sup ? -size * 0.42 : 0);
        var s = t.append("tspan").attr("dy", shift - cur).text(p.t)
            .style("font-size", ((p.sub || p.sup) ? size * 0.7 : size) + "px");
        if (p.it) s.style("font-style", "italic");
        cur = shift;
    });
}

///////////////////////////////////
// Style an axis group made by d3.axis*
function styleAxis(g, size) {
///////////////////////////////////
    g.attr("font-family", null).attr("font-size", null);
    g.select(".domain").remove();
    g.selectAll("line").attr("stroke", ink);
    g.selectAll("text").attr("fill", ink).style("font-size", size + "px");
}

function frame(g, box, w) {
    g.append("rect").attr("x", box.x0).attr("y", box.y0)
        .attr("width", box.x1 - box.x0).attr("height", box.y1 - box.y0)
        .attr("fill", "none").attr("stroke", ink).attr("stroke-width", w || 1);
}

function dashed(g, x1, y1, x2, y2) {
    g.append("line").attr("x1", x1).attr("y1", y1).attr("x2", x2).attr("y2", y2)
        .attr("stroke", "#b0b0b0").attr("stroke-width", 1).attr("stroke-dasharray", "5,3");
}


//// TITLE

svg.append("text").attr("x", 567).attr("y", 18).attr("text-anchor", "middle")
    .style("font-size", "16.5px").style("white-space", "pre").attr("fill", ink)
    .text("[PRELIMINARY] 1ES 1215+303 light curves:           2008-08-04 to 2017-09-04");


//// VERITAS PANEL

var vBox = {x0: plotLeft, x1: plotRight, y0: vTop, y1: vBottom};
addClip("clipV", plotLeft, vTop, plotRight, vBottom);
var gV = svg.append("g");
drawGrid(gV, mjdTicks, x, veritasTicks, yV, vBox);

var gVd = gV.append("g").attr("clip-path", "url(#clipV)");
drawErrorPoints(gVd, veritasMjd, veritasFlux, veritasErr, x, yV, {bar: "rgba(255,0,0,0.6)", barWidth: 1.5, r: 2.6});

gV.append("g").attr("transform", "translate(0," + vTop + ")")
    .call(d3.axisTop(x).tickValues(mjdTicks).tickFormat(function(d, i) { return dateTicks[i]; }).tickSize(3.5).tickPadding(5))
    .call(styleAxis, 11);
gV.append("g").attr("transform", "translate(" + plotLeft + ",0)")
    .call(d3.axisLeft(yV).tickValues(veritasTicks).tickSize(3.5).tickPadding(5))
    .call(styleAxis, 11);

svg.append("text").attr("x", 1106).attr("y", 81).attr("text-anchor", "end")
    .style("font-size", "20px").attr("fill", ink).text("VERITAS");

var yLabV = svg.append("text").attr("transform", "translate(23,145) rotate(-90)")
    .attr("text-anchor", "middle").attr("fill", ink);
richText(yLabV, [{t: "F"}, {t: ">200", sub: 1}, {t: "GeV", sub: 1, it: 1},
    {t: " [ \u00d7 10"}, {t: "\u221211", sup: 1}, {t: " cm"}, {t: "\u22122", sup: 1},
    {t: " s"}, {t: "\u22121", sup: 1}, {t: "]"}], 12.5);


//// FERMI PANEL

var fBox = {x0: plotLeft, x1: plotRight, y0: fTop, y1: fBottom};
addClip("clipF", plotLeft, fTop, plotRight, fBottom);
var gF = svg.append("g");
drawGrid(gF, mjdTicks, x, fermiTicks, yF, fBox);

var gFd = gF.append("g").attr("clip-path", "url(#clipF)");

// zoom boxes of the three flares (behind the points)
var zoomRects = [
    {m0: 54738.4, m1: 54760.6, f0: 7, f1: 67.2},
    {m0: 56689.3, m1: 56702.5, f0: 5, f1: 58.3},
    {m0: 57837.4, m1: 57858.9, f0: 2, f1: 53}
];
zoomRects.forEach(function(r) {
    gFd.append("rect").attr("x", x(r.m0)).attr("y", yF(r.f1))
        .attr("width", x(r.m1) - x(r.m0)).attr("height", yF(r.f0) - yF(r.f1))
        .attr("fill", "none").attr("stroke", "#b0b0b0").attr("stroke-dasharray", "5,3");
});

var fermiMjd = fermiFlux.map(function(d, i) { return fermiStart + i * fermiBin; });
gFd.append("line").attr("x1", plotLeft).attr("x2", plotRight)
    .attr("y1", yF(fermiMean)).attr("y2", yF(fermiMean))
    .attr("stroke", "#6a6aff").attr("stroke-width", 1);
drawErrorPoints(gFd, fermiMjd, fermiFlux, fermiErr, x, yF, {bar: "rgba(255,40,40,0.5)", barWidth: 1.3, r: 2.5});

gFd.selectAll(null).data(ulFlux).enter().append("path")
    .attr("d", d3.symbol(d3.symbolTriangle, 34))
    .attr("transform", function(d, i) { return "translate(" + x(ulMjd[i]) + "," + yF(d) + ") rotate(180)"; })
    .attr("fill", "#008000");

gF.append("g").attr("transform", "translate(0," + fBottom + ")")
    .call(d3.axisBottom(x).tickValues(mjdTicks).tickFormat(d3.format("d")).tickSize(3.5).tickPadding(3.5))
    .call(styleAxis, 11);
gF.append("g").attr("transform", "translate(" + plotLeft + ",0)")
    .call(d3.axisLeft(yF).tickValues(fermiTicks).tickSize(3.5).tickPadding(5))
    .call(styleAxis, 11);

svg.append("text").attr("x", 1109).attr("y", 262).attr("text-anchor", "end")
    .style("font-size", "18.5px").attr("fill", ink).text("Fermi-LAT");

svg.append("text").attr("x", (plotLeft + plotRight) / 2).attr("y", 488).attr("text-anchor", "middle")
    .style("font-size", "14px").attr("fill", ink).text("MJD");

var yLabF = svg.append("text").attr("transform", "translate(23,344) rotate(-90)")
    .attr("text-anchor", "middle").attr("fill", ink);
richText(yLabF, [{t: "F"}, {t: "0.1\u2212500", sub: 1}, {t: "GeV", sub: 1, it: 1},
    {t: " [ \u00d7 10"}, {t: "\u22128", sup: 1}, {t: " cm"}, {t: "\u22122", sup: 1},
    {t: " s"}, {t: "\u22121", sup: 1}, {t: "]"}], 12.5);

// legend
var gL = svg.append("g");
gL.append("rect").attr("x", 1012).attr("y", 427).attr("width", 99).attr("height", 20).attr("rx", 3)
    .attr("fill", "#fff").attr("fill-opacity", 0.8).attr("stroke", "#cccccc");
gL.append("rect").attr("x", 1017).attr("y", 433).attr("width", 22).attr("height", 8).attr("fill", "#6a6aff");
gL.append("text").attr("x", 1047).attr("y", 441).style("font-size", "11px").attr("fill", ink).text("9yrs mean");

// panel frames
frame(svg, vBox, 1);
frame(svg, fBox, 1);
svg.append("line").attr("x1", plotLeft).attr("x2", plotRight).attr("y1", vBottom).attr("y2", vBottom)
    .attr("stroke", "#666").attr("stroke-width", 2);


//// FERMI INSETS

///////////////////////////////////
// One zoomed Fermi flare
function fermiInset(box, xdom, ydom, yticks, mjd, flux, err, ticks, title, rect, side) {
///////////////////////////////////
    var xs_ = d3.scaleLinear().domain(xdom).range([box.x0, box.x1]);
    var ys_ = d3.scaleLinear().domain(ydom).range([box.y1, box.y0]);
    var g = svg.append("g");
    var id = "clipI" + Math.round(box.x0);
    addClip(id, box.x0, box.y0, box.x1, box.y1);

    // connectors to the zoom box on the main light curve
    var cx = side === "left" ? box.x0 : box.x1;
    var rx = side === "left" ? x(rect.m1) : x(rect.m0);
    dashed(g, cx, box.y0, rx, yF(rect.f1));
    dashed(g, cx, box.y1, rx, yF(rect.f0));

    g.append("rect").attr("x", box.x0).attr("y", box.y0).attr("width", box.x1 - box.x0)
        .attr("height", box.y1 - box.y0).attr("fill", "#fff");
    drawGrid(g, ticks, xs_, yticks, ys_, box);
    var gd = g.append("g").attr("clip-path", "url(#" + id + ")");
    gd.append("line").attr("x1", box.x0).attr("x2", box.x1)
        .attr("y1", ys_(fermiMean)).attr("y2", ys_(fermiMean))
        .attr("stroke", "#4a4aff").attr("stroke-width", 1.6);
    drawErrorPoints(gd, mjd, flux, err, xs_, ys_, {bar: "rgba(255,0,0,0.55)", barWidth: 1.3, r: 2.6, xerr: 0.5});

    g.append("g").attr("transform", "translate(0," + box.y1 + ")")
        .call(d3.axisBottom(xs_).tickValues(ticks).tickFormat(d3.format("d")).tickSize(2.5).tickPadding(5))
        .call(styleAxis, 8);
    g.append("g").attr("transform", "translate(" + box.x0 + ",0)")
        .call(d3.axisLeft(ys_).tickValues(yticks).tickSize(2.5).tickPadding(1.5))
        .call(styleAxis, 8);
    g.append("text").attr("x", (box.x0 + box.x1) / 2).attr("y", box.y0 - 6).attr("text-anchor", "middle")
        .style("font-size", "7.5px").style("white-space", "pre").attr("fill", ink).text(title);
    g.append("text").attr("x", box.x0 + 4).attr("y", box.y1 + 15.5)
        .style("font-size", "8px").attr("fill", ink).text("MJD:");
    frame(g, box, 1);
}

fermiInset({x0: 155, x1: 312.3, y0: 250.7, y1: 317.7}, [54738.4, 54760.6], [-13, 100.2], [0, 50, 100],
    flare1Mjd, flare1Flux, flare1Err, flare1Ticks, flare1Title, zoomRects[0], "left");
fermiInset({x0: 470.7, x1: 622.3, y0: 250, y1: 315.7}, [56689.3, 56702.5], [-4.8, 74], [0, 20, 40, 60],
    flare2Mjd, flare2Flux, flare2Err, flare2Ticks, flare2Title, zoomRects[1], "right");
fermiInset({x0: 814, x1: 965.7, y0: 250.3, y1: 315.7}, [57837.4, 57858.9], [-4.7, 86], [0, 25, 50, 75],
    flare3Mjd, flare3Flux, flare3Err, flare3Ticks, flare3Title, zoomRects[2], "right");


//// VERITAS INSET

var vIns = {x0: 429.3, x1: 587.7, y0: 70, y1: 144.3};
var vxs = d3.scaleLinear().domain([9.1, 68.8]).range([vIns.x0, vIns.x1]);
var vys = d3.scaleLinear().domain([1.77, 8.45]).range([vIns.y1, vIns.y0]);
var gI = svg.append("g");
var flareX = x(56696.5) - 4;
dashed(gI, vIns.x1, vIns.y0, flareX, yV(50.2));
dashed(gI, vIns.x1, vIns.y1, flareX, yV(49.6));
gI.append("rect").attr("x", vIns.x0).attr("y", vIns.y0).attr("width", vIns.x1 - vIns.x0)
    .attr("height", vIns.y1 - vIns.y0).attr("fill", "#fff");
drawGrid(gI, vInsXTicks, vxs, vInsYTicks, vys, vIns);
drawErrorPoints(gI, vFlareMin, vFlareFlux, vFlareErr, vxs, vys, {bar: "rgba(255,0,0,0.75)", barWidth: 1.8, r: 2.6});
gI.append("g").attr("transform", "translate(0," + vIns.y1 + ")")
    .call(d3.axisBottom(vxs).tickValues(vInsXTicks).tickSize(2.5).tickPadding(2))
    .call(styleAxis, 8);
gI.append("g").attr("transform", "translate(" + vIns.x0 + ",0)")
    .call(d3.axisLeft(vys).tickValues(vInsYTicks).tickFormat(d3.format("d")).tickSize(2.5).tickPadding(2))
    .call(styleAxis, 8);
frame(gI, vIns, 1);
gI.append("text").attr("x", (vIns.x0 + vIns.x1) / 2).attr("y", 66).attr("text-anchor", "middle")
    .style("font-size", "8px").attr("fill", ink).text("2014-02-08");
gI.append("text").attr("x", (vIns.x0 + vIns.x1) / 2).attr("y", 171).attr("text-anchor", "middle")
    .style("font-size", "8px").attr("fill", ink).text("time - MJD 56696.5 [min]");
var l1 = gI.append("text").attr("transform", "translate(398,107) rotate(-90)")
    .attr("text-anchor", "middle").attr("fill", ink);
richText(l1, [{t: "F"}, {t: ">200", sub: 1}, {t: "GeV", sub: 1, it: 1}], 7.5);
var l2 = gI.append("text").attr("transform", "translate(407.5,107) rotate(-90)")
    .attr("text-anchor", "middle").attr("fill", ink);
richText(l2, [{t: "[ \u00d7 10"}, {t: "\u22126", sup: 1}, {t: " ph cm"}, {t: "\u22122", sup: 1},
    {t: " s"}, {t: "\u22121", sup: 1}, {t: "]"}], 7.5);


//// WATERMARK

svg.append("text").attr("transform", "translate(82,400) rotate(-9.5)")
    .attr("textLength", 1010).attr("lengthAdjust", "spacingAndGlyphs")
    .style("font-size", "180px").attr("fill", "#000").attr("fill-opacity", 0.055)
    .text("PRELIMINARY");

</script>
</body>
</html>
